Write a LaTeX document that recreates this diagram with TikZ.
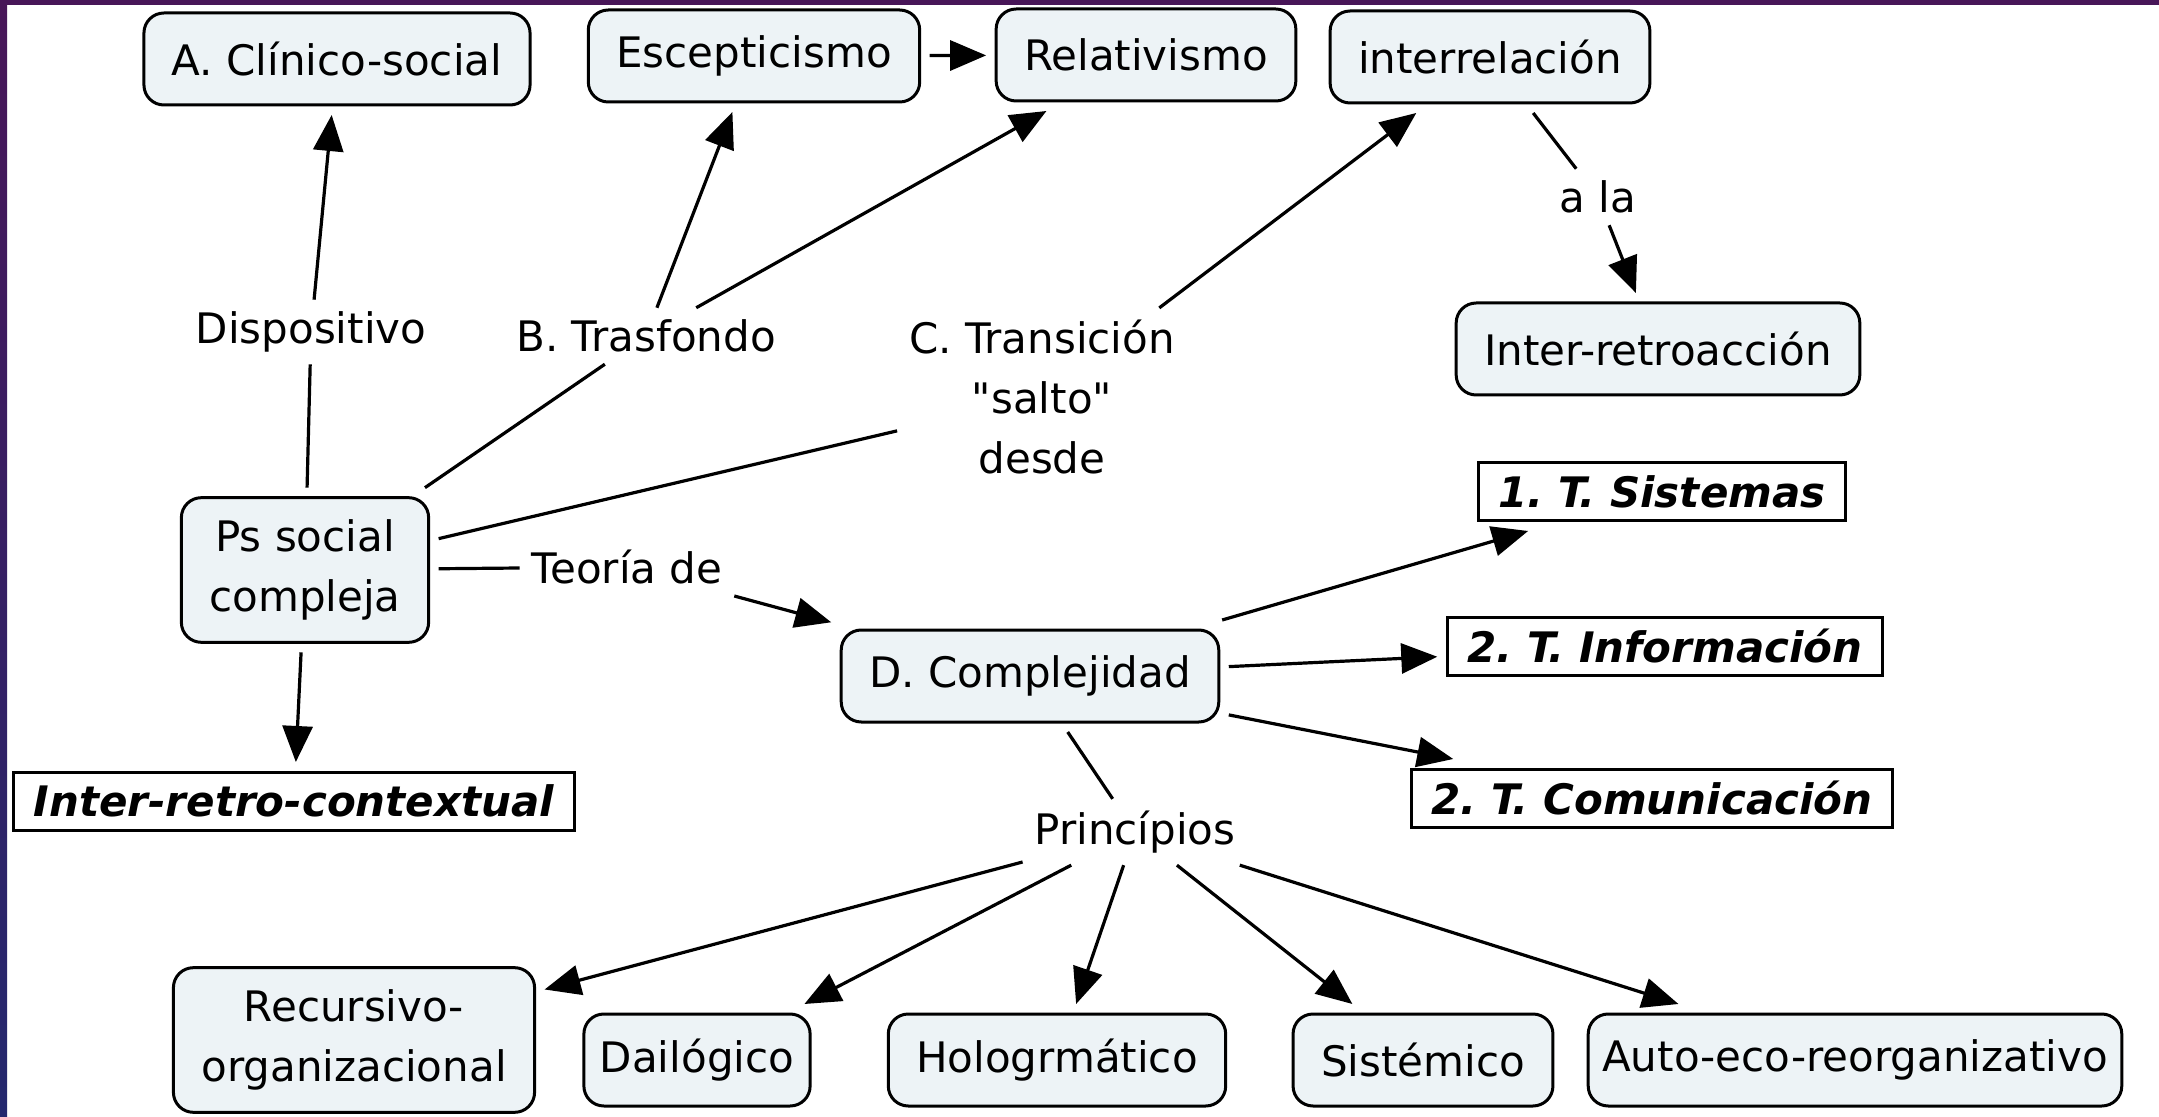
\documentclass[tikz,border=0pt]{standalone}
\usepackage{fontspec}
\setmainfont{DejaVu Sans}[ItalicFont={DejaVu Sans Oblique},BoldFont={DejaVu Sans Bold},BoldItalicFont={DejaVu Sans Bold Oblique}]
\newfontfamily\qfont{DejaVu Sans}
\usetikzlibrary{arrows.meta}
\definecolor{boxfill}{RGB}{237,243,246}
\definecolor{bandpurple}{RGB}{72,22,88}
\definecolor{bandblue}{RGB}{36,40,110}
\newcommand{\fsz}{\fontsize{21}{30}\selectfont\frenchspacing}
\newcommand{\sq}{{\qfont\symbol{34}}}
\begin{document}
\begin{tikzpicture}[x=0.5pt,y=-0.5pt,
  cbox/.style={draw=black, line width=1.5pt, rounded corners=10pt, fill=boxfill,
    inner xsep=14pt, inner ysep=11pt, minimum height=46pt, align=center, font=\fsz, outer sep=5pt},
  rbox/.style={draw=black, line width=1.5pt, fill=white, inner xsep=10pt,
    minimum height=29pt, font=\fsz\bfseries\itshape, outer sep=5pt},
  lbl/.style={font=\fsz, align=center, inner sep=2pt, outer sep=4pt},
  conn/.style={line width=1.6pt},
  arr/.style={conn, -{Triangle[length=18pt,width=15pt]}}]
\useasboundingbox (0,0) rectangle (2159,1117);
\fill[white] (0,0) rectangle (2159,1117);
\fill[bandpurple] (0,0) rectangle (2159,5);
\shade[top color=bandpurple, bottom color=bandblue] (0,0) rectangle (7,1117);

% concept boxes
\node[cbox] (A) at (337,59) {A. Clínico-social};
\node[cbox] (Esc) at (754,56) {Escepticismo};
\node[cbox] (Rel) at (1146,55) {Relativismo};
\node[cbox] (Int) at (1490,57) {interrelación};
\node[cbox] (IR) at (1658,349) {Inter-retroacción};
\node[cbox] (Ps) at (305,570) {Ps social\\compleja};
\node[cbox] (D) at (1030,676) {D. Complejidad};
\node[cbox] (Rec) at (354,1040) {Recursivo-\\organizacional};
\node[cbox, inner xsep=8pt] (Dai) at (697,1060) {Dailógico};
\node[cbox] (Hol) at (1057,1060) {Hologrmático};
\node[cbox] (Sis) at (1423,1060) {Sistémico};
\node[cbox, inner xsep=7pt] (Aut) at (1855,1060) {Auto-eco-reorganizativo};

% rectangular boxes
\node[rbox] (TS) at (1662,492) {1. T. Sistemas};
\node[rbox] (TI) at (1665,646) {2. T. Información};
\node[rbox] (TC) at (1652,798) {2. T. Comunicación};
\node[rbox] (IRC) at (294,801) {Inter-retro-contextual};

% linking phrases
\node[lbl] (Dis) at (311,332) {Dispositivo};
\node[lbl] (B) at (646,336) {B. Trasfondo};
\node[lbl] (C) at (1042,397) {C. Transición\\\sq salto\sq\\desde};
\node[lbl] (ala) at (1598,197) {a la};
\node[lbl] (Teo) at (627,567) {Teoría de};
\node[lbl] (Pri) at (1135,832) {Princípios};

% connectors
\draw[conn] (Ps) -- (Dis);
\draw[arr] (Dis) -- (A);
\draw[conn] (Ps) -- (B);
\draw[arr] (B) -- (Esc);
\draw[arr] (B) -- (Rel);
\draw[arr] (Esc) -- (Rel);
\draw[conn] (Ps) -- (C);
\draw[arr] (C) -- (Int);
\draw[conn] (Int) -- (ala);
\draw[arr] (ala) -- (IR);
\draw[conn] (Ps) -- (Teo);
\draw[arr] (Teo) -- (D);
\draw[arr] (Ps) -- (IRC);
\draw[arr] (D) -- (TS);
\draw[arr] (D) -- (TI);
\draw[arr] (D) -- (TC);
\draw[conn] (D) -- (Pri);
\draw[arr] (Pri) -- (Rec);
\draw[arr] (Pri) -- (Dai);
\draw[arr] (Pri) -- (Hol);
\draw[arr] (Pri) -- (Sis);
\draw[arr] (Pri) -- (Aut);
\end{tikzpicture}
\end{document}
